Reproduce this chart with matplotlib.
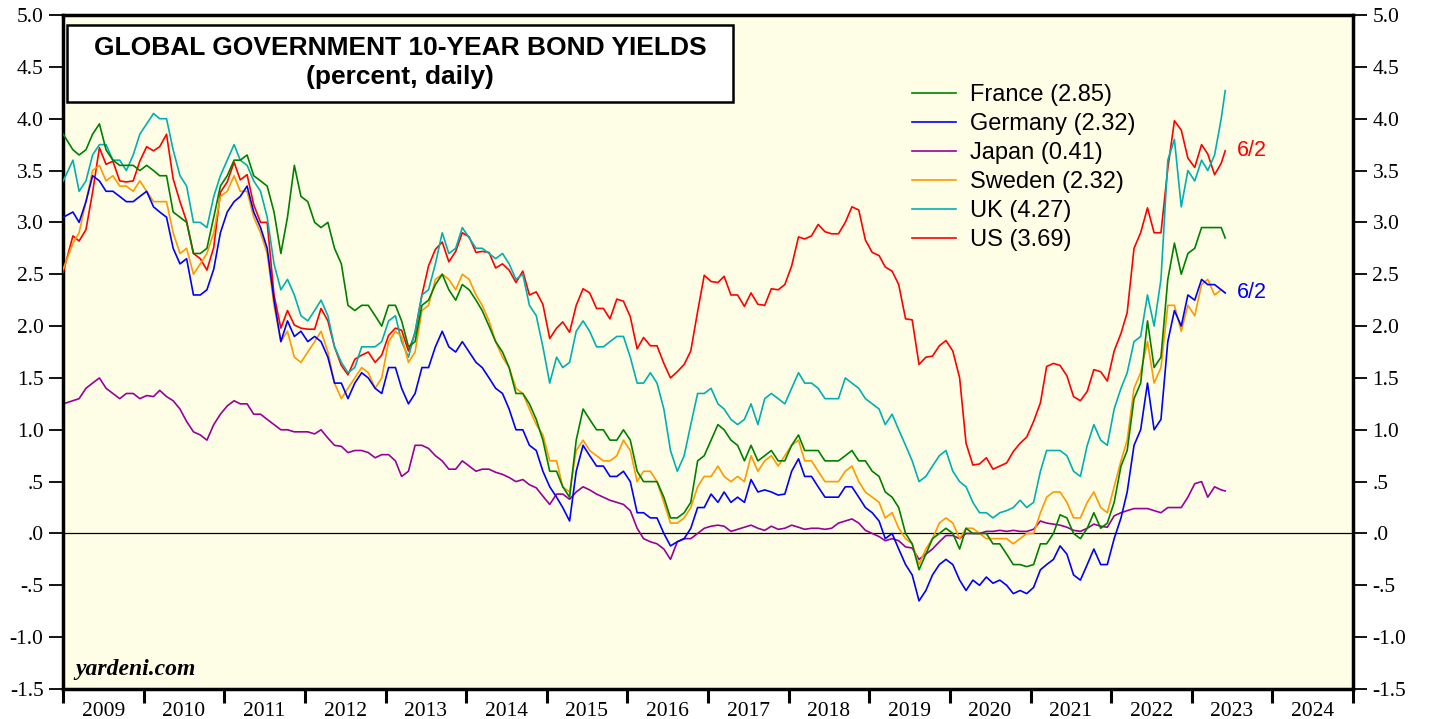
import matplotlib
matplotlib.use('Agg')
import matplotlib.pyplot as plt
from matplotlib.patches import Rectangle
import pandas as pd

# monthly readings Jan 2009 .. May 2023, last point is 6/2/2023
dates = list(pd.date_range('2009-01-01', periods=173, freq='MS') + pd.Timedelta(days=14))
dates[0] = pd.Timestamp('2009-01-02')
dates.append(pd.Timestamp('2023-06-02'))

us = [2.52, 2.87, 2.82, 2.93, 3.29, 3.72, 3.56, 3.59, 3.40, 3.39, 3.40, 3.59,
      3.73, 3.69, 3.73, 3.85, 3.42, 3.20, 3.01, 2.70, 2.65, 2.54, 2.76, 3.29,
      3.39, 3.58, 3.41, 3.46, 3.17, 3.00, 3.00, 2.30, 1.98, 2.15, 2.01, 1.98,
      1.97, 1.97, 2.17, 2.05, 1.80, 1.62, 1.53, 1.68, 1.72, 1.75, 1.65, 1.72,
      1.91, 1.98, 1.96, 1.76, 1.93, 2.30, 2.58, 2.74, 2.81, 2.62, 2.72, 2.90,
      2.86, 2.71, 2.72, 2.71, 2.56, 2.60, 2.54, 2.42, 2.53, 2.30, 2.33, 2.21,
      1.88, 1.98, 2.04, 1.94, 2.20, 2.36, 2.32, 2.17, 2.17, 2.07, 2.26, 2.24,
      2.09, 1.78, 1.89, 1.81, 1.81, 1.64, 1.50, 1.56, 1.63, 1.76, 2.14, 2.49,
      2.43, 2.42, 2.48, 2.30, 2.30, 2.19, 2.32, 2.21, 2.20, 2.36, 2.35, 2.40,
      2.58, 2.86, 2.84, 2.87, 2.98, 2.91, 2.89, 2.89, 3.00, 3.15, 3.12, 2.83,
      2.71, 2.68, 2.57, 2.53, 2.40, 2.07, 2.06, 1.63, 1.70, 1.71, 1.81, 1.86,
      1.76, 1.50, 0.87, 0.66, 0.67, 0.73, 0.62, 0.65, 0.68, 0.79, 0.87, 0.93,
      1.08, 1.26, 1.61, 1.64, 1.62, 1.52, 1.32, 1.28, 1.37, 1.58, 1.56, 1.47,
      1.76, 1.93, 2.13, 2.75, 2.90, 3.14, 2.90, 2.90, 3.52, 3.98, 3.89, 3.62,
      3.53, 3.75, 3.66, 3.46, 3.57, 3.69]

germany = [3.05, 3.10, 3.00, 3.20, 3.45, 3.40, 3.30, 3.30, 3.25, 3.20, 3.20, 3.25,
           3.30, 3.15, 3.10, 3.05, 2.75, 2.60, 2.65, 2.30, 2.30, 2.35, 2.55, 2.90,
           3.10, 3.20, 3.25, 3.35, 3.10, 2.95, 2.75, 2.25, 1.85, 2.05, 1.90, 1.95,
           1.85, 1.90, 1.85, 1.70, 1.45, 1.45, 1.30, 1.45, 1.55, 1.50, 1.40, 1.35,
           1.60, 1.60, 1.40, 1.25, 1.35, 1.60, 1.60, 1.80, 1.95, 1.80, 1.75, 1.85,
           1.75, 1.65, 1.60, 1.50, 1.40, 1.35, 1.20, 1.00, 1.00, 0.85, 0.80, 0.60,
           0.45, 0.35, 0.25, 0.12, 0.60, 0.85, 0.75, 0.65, 0.65, 0.55, 0.55, 0.60,
           0.50, 0.20, 0.20, 0.15, 0.15, 0.00, -0.12, -0.08, -0.05, 0.05, 0.25, 0.25,
           0.38, 0.30, 0.40, 0.30, 0.35, 0.30, 0.52, 0.40, 0.42, 0.40, 0.37, 0.38,
           0.60, 0.72, 0.55, 0.55, 0.45, 0.35, 0.35, 0.35, 0.45, 0.45, 0.35, 0.25,
           0.20, 0.12, -0.05, 0.00, -0.15, -0.30, -0.40, -0.65, -0.55, -0.40, -0.30, -0.25,
           -0.30, -0.45, -0.55, -0.45, -0.50, -0.42, -0.48, -0.45, -0.50, -0.58, -0.55, -0.58,
           -0.52, -0.35, -0.30, -0.25, -0.12, -0.20, -0.40, -0.45, -0.30, -0.15, -0.30, -0.30,
           -0.05, 0.15, 0.40, 0.85, 1.00, 1.45, 1.00, 1.10, 1.85, 2.15, 2.00, 2.30,
           2.25, 2.45, 2.40, 2.40, 2.35, 2.32]

france = [3.85, 3.70, 3.65, 3.70, 3.85, 3.95, 3.70, 3.60, 3.55, 3.55, 3.55, 3.50,
          3.55, 3.50, 3.45, 3.45, 3.10, 3.05, 3.00, 2.70, 2.70, 2.75, 3.05, 3.35,
          3.45, 3.60, 3.60, 3.65, 3.45, 3.40, 3.35, 3.10, 2.70, 3.05, 3.55, 3.25,
          3.20, 3.00, 2.95, 3.00, 2.75, 2.60, 2.20, 2.15, 2.20, 2.20, 2.10, 2.00,
          2.20, 2.20, 2.05, 1.80, 1.85, 2.20, 2.25, 2.40, 2.50, 2.35, 2.25, 2.40,
          2.35, 2.25, 2.15, 2.00, 1.85, 1.75, 1.60, 1.35, 1.35, 1.25, 1.10, 0.90,
          0.60, 0.60, 0.45, 0.35, 0.90, 1.20, 1.10, 1.00, 1.00, 0.90, 0.90, 1.00,
          0.90, 0.60, 0.50, 0.50, 0.50, 0.35, 0.15, 0.15, 0.20, 0.30, 0.70, 0.75,
          0.90, 1.05, 1.00, 0.90, 0.85, 0.70, 0.85, 0.70, 0.75, 0.80, 0.70, 0.70,
          0.85, 0.95, 0.80, 0.80, 0.80, 0.70, 0.70, 0.70, 0.75, 0.80, 0.70, 0.70,
          0.60, 0.55, 0.40, 0.35, 0.25, 0.00, -0.10, -0.35, -0.20, -0.05, 0.00, 0.05,
          0.00, -0.15, 0.05, 0.00, 0.00, 0.00, -0.10, -0.10, -0.20, -0.30, -0.30, -0.32,
          -0.30, -0.10, -0.10, 0.00, 0.18, 0.15, 0.00, -0.05, 0.05, 0.20, 0.05, 0.10,
          0.30, 0.65, 0.80, 1.30, 1.45, 2.05, 1.60, 1.70, 2.45, 2.80, 2.50, 2.70,
          2.75, 2.95, 2.95, 2.95, 2.95, 2.85]

sweden = [2.55, 2.80, 2.90, 3.20, 3.50, 3.55, 3.40, 3.45, 3.35, 3.35, 3.30, 3.40,
          3.30, 3.20, 3.20, 3.20, 2.90, 2.70, 2.75, 2.50, 2.60, 2.70, 2.90, 3.25,
          3.30, 3.45, 3.30, 3.30, 3.05, 2.90, 2.70, 2.20, 1.85, 1.95, 1.70, 1.65,
          1.75, 1.85, 1.95, 1.75, 1.45, 1.30, 1.40, 1.50, 1.60, 1.55, 1.40, 1.50,
          1.85, 1.95, 1.90, 1.65, 1.75, 2.15, 2.20, 2.45, 2.50, 2.45, 2.35, 2.50,
          2.45, 2.30, 2.20, 2.05, 1.85, 1.70, 1.60, 1.40, 1.35, 1.20, 1.05, 0.95,
          0.70, 0.70, 0.45, 0.40, 0.80, 0.90, 0.80, 0.75, 0.70, 0.70, 0.75, 0.90,
          0.80, 0.50, 0.60, 0.60, 0.50, 0.30, 0.10, 0.10, 0.15, 0.25, 0.45, 0.55,
          0.55, 0.65, 0.55, 0.50, 0.55, 0.50, 0.75, 0.60, 0.70, 0.75, 0.65, 0.75,
          0.85, 0.90, 0.70, 0.70, 0.60, 0.50, 0.50, 0.50, 0.60, 0.65, 0.50, 0.40,
          0.35, 0.30, 0.15, 0.20, 0.05, -0.05, -0.10, -0.30, -0.15, -0.05, 0.10, 0.15,
          0.10, -0.05, 0.05, 0.05, 0.00, -0.05, -0.05, -0.05, -0.05, -0.10, -0.05, 0.00,
          0.00, 0.20, 0.35, 0.40, 0.40, 0.30, 0.15, 0.15, 0.30, 0.40, 0.25, 0.20,
          0.45, 0.70, 0.90, 1.40, 1.55, 1.85, 1.45, 1.60, 2.20, 2.20, 1.95, 2.20,
          2.10, 2.40, 2.45, 2.30, 2.35, 2.32]

uk = [3.40, 3.60, 3.30, 3.40, 3.65, 3.75, 3.75, 3.60, 3.60, 3.50, 3.65, 3.85,
      3.95, 4.05, 4.00, 4.00, 3.70, 3.45, 3.35, 3.00, 3.00, 2.95, 3.25, 3.45,
      3.60, 3.75, 3.60, 3.55, 3.40, 3.30, 3.05, 2.60, 2.35, 2.45, 2.30, 2.10,
      2.05, 2.15, 2.25, 2.10, 1.80, 1.65, 1.55, 1.60, 1.80, 1.80, 1.80, 1.85,
      2.05, 2.10, 1.85, 1.70, 1.95, 2.30, 2.35, 2.60, 2.90, 2.70, 2.75, 2.95,
      2.85, 2.75, 2.75, 2.70, 2.65, 2.70, 2.60, 2.45, 2.50, 2.20, 2.10, 1.80,
      1.45, 1.70, 1.60, 1.65, 1.95, 2.05, 1.95, 1.80, 1.80, 1.85, 1.90, 1.90,
      1.70, 1.45, 1.45, 1.55, 1.45, 1.20, 0.80, 0.60, 0.75, 1.05, 1.35, 1.35,
      1.40, 1.25, 1.20, 1.10, 1.05, 1.10, 1.25, 1.05, 1.30, 1.35, 1.30, 1.25,
      1.40, 1.55, 1.45, 1.45, 1.40, 1.30, 1.30, 1.30, 1.50, 1.45, 1.40, 1.30,
      1.25, 1.20, 1.05, 1.15, 1.00, 0.85, 0.70, 0.50, 0.55, 0.65, 0.75, 0.80,
      0.60, 0.50, 0.45, 0.30, 0.20, 0.20, 0.15, 0.20, 0.22, 0.25, 0.32, 0.25,
      0.30, 0.60, 0.80, 0.80, 0.80, 0.75, 0.60, 0.55, 0.85, 1.05, 0.90, 0.85,
      1.20, 1.40, 1.55, 1.85, 1.90, 2.30, 2.00, 2.45, 3.60, 3.80, 3.15, 3.50,
      3.40, 3.60, 3.50, 3.65, 4.00, 4.27]

japan = [1.25, 1.28, 1.30, 1.40, 1.45, 1.50, 1.40, 1.35, 1.30, 1.35, 1.35, 1.30,
         1.33, 1.32, 1.38, 1.32, 1.28, 1.20, 1.08, 0.98, 0.95, 0.90, 1.05, 1.15,
         1.23, 1.28, 1.25, 1.25, 1.15, 1.15, 1.10, 1.05, 1.00, 1.00, 0.98, 0.98,
         0.98, 0.96, 1.00, 0.92, 0.85, 0.84, 0.78, 0.80, 0.80, 0.78, 0.73, 0.76,
         0.76, 0.70, 0.55, 0.60, 0.85, 0.85, 0.82, 0.75, 0.70, 0.62, 0.62, 0.70,
         0.65, 0.60, 0.62, 0.62, 0.59, 0.57, 0.54, 0.50, 0.52, 0.47, 0.44, 0.36,
         0.28, 0.38, 0.38, 0.33, 0.40, 0.45, 0.42, 0.38, 0.35, 0.32, 0.30, 0.28,
         0.22, 0.05, -0.05, -0.08, -0.10, -0.15, -0.25, -0.08, -0.05, -0.05, 0.00, 0.05,
         0.07, 0.08, 0.07, 0.02, 0.04, 0.06, 0.08, 0.05, 0.03, 0.07, 0.04, 0.05,
         0.08, 0.06, 0.04, 0.05, 0.05, 0.04, 0.05, 0.10, 0.12, 0.14, 0.10, 0.03,
         0.00, -0.03, -0.07, -0.05, -0.07, -0.13, -0.14, -0.25, -0.20, -0.15, -0.08, -0.02,
         -0.02, -0.05, 0.00, 0.00, 0.00, 0.02, 0.02, 0.03, 0.02, 0.03, 0.02, 0.02,
         0.04, 0.12, 0.10, 0.09, 0.08, 0.06, 0.03, 0.02, 0.05, 0.09, 0.07, 0.06,
         0.17, 0.20, 0.22, 0.24, 0.24, 0.24, 0.22, 0.20, 0.25, 0.25, 0.25, 0.35,
         0.48, 0.50, 0.35, 0.45, 0.42, 0.41]

series = [
    ('France', france, '#008000'),
    ('Germany', germany, '#0000ff'),
    ('Japan', japan, '#990099'),
    ('Sweden', sweden, '#ff9900'),
    ('UK', uk, '#00b0b0'),
    ('US', us, '#ff0000'),
]
years = list(range(2009, 2025))
yticks = [5.0, 4.5, 4.0, 3.5, 3.0, 2.5, 2.0, 1.5, 1.0, 0.5, 0.0, -0.5, -1.0, -1.5]
ytick_labels = ['5.0', '4.5', '4.0', '3.5', '3.0', '2.5', '2.0', '1.5', '1.0',
                '.5', '.0', '-.5', '-1.0', '-1.5']

W, H = 1429, 719
fig = plt.figure(figsize=(W / 100, H / 100), dpi=100, facecolor='white')
ax = fig.add_axes([63 / W, 1 - 689 / H, 1290 / W, 674 / H])
ax.set_facecolor('#fefee6')

ax.axhline(0, color='black', linewidth=0.9, zorder=1)

draw_order = ['Japan', 'US', 'UK', 'Sweden', 'France', 'Germany']
handles = {}
for name, vals, color in series:
    assert len(vals) == len(dates)
    ln, = ax.plot(dates, vals, color=color, linewidth=1.2,
                  zorder=2 + draw_order.index(name),
                  label='%s (%.2f)' % (name, vals[-1]))
    handles[name] = ln

ax.set_xlim(pd.Timestamp('2009-01-01'), pd.Timestamp('2025-01-01'))
ax.set_ylim(-1.5, 5.0)

# year boundaries as ticks, year labels centred between them
ax.set_xticks([pd.Timestamp('%d-01-01' % y) for y in range(2009, 2026)])
ax.set_xticklabels([])
ax.set_xticks([pd.Timestamp('%d-07-02' % y) for y in years], minor=True)
ax.set_xticklabels([str(y) for y in years], minor=True,
                   fontfamily='Liberation Serif', fontsize=15.5)
ax.tick_params(axis='x', which='major', direction='out', length=10, width=2.2)
ax.tick_params(axis='x', which='minor', length=0, pad=9)

ax.set_yticks(yticks)
ax.set_yticklabels(ytick_labels, fontfamily='Liberation Serif', fontsize=15.5)
ax.tick_params(axis='y', direction='out', length=10, width=1.3,
               left=True, right=True, labelleft=True, labelright=True, pad=4)

for sp in ax.spines.values():
    sp.set_linewidth(2.5)

# title box
ax.add_patch(Rectangle((4 / 1290, (689 - 102) / 674), 666 / 1290, 77 / 674,
                       transform=ax.transAxes, facecolor='white',
                       edgecolor='black', linewidth=1.8, zorder=20))
ax.text((400 - 63) / 1290, (689 - 48) / 674,
        'GLOBAL GOVERNMENT 10-YEAR BOND YIELDS', transform=ax.transAxes,
        ha='center', va='center', fontsize=19, fontweight='bold',
        family='Liberation Sans', zorder=21)
ax.text((400 - 63) / 1290, (689 - 77) / 674, '(percent, daily)',
        transform=ax.transAxes, ha='center', va='center', fontsize=19,
        fontweight='bold', family='Liberation Sans', zorder=21)

leg = ax.legend([handles[n] for n, _, _ in series],
                [handles[n].get_label() for n, _, _ in series],
                loc='upper left', bbox_to_anchor=((912 - 63) / 1290, (689 - 84) / 674),
                frameon=False, borderpad=0, borderaxespad=0,
                handlelength=1.85, handletextpad=0.62, labelspacing=0.3,
                prop={'family': 'Liberation Sans', 'size': 17})
leg.set_zorder(25)

ax.text(pd.Timestamp('2023-07-25'), us[-1], '6/2', color='#ff0000', fontsize=15.5,
        family='Liberation Sans', ha='left', va='center', zorder=30)
ax.text(pd.Timestamp('2023-07-25'), germany[-1], '6/2', color='#0000ff', fontsize=15.5,
        family='Liberation Sans', ha='left', va='center', zorder=30)

ax.text(12 / 1290, 9 / 674, 'yardeni.com', transform=ax.transAxes,
        fontsize=17, fontweight='bold', style='italic', family='Liberation Serif',
        ha='left', va='bottom', zorder=30)

fig.savefig('out.png', dpi=100, facecolor='white')
